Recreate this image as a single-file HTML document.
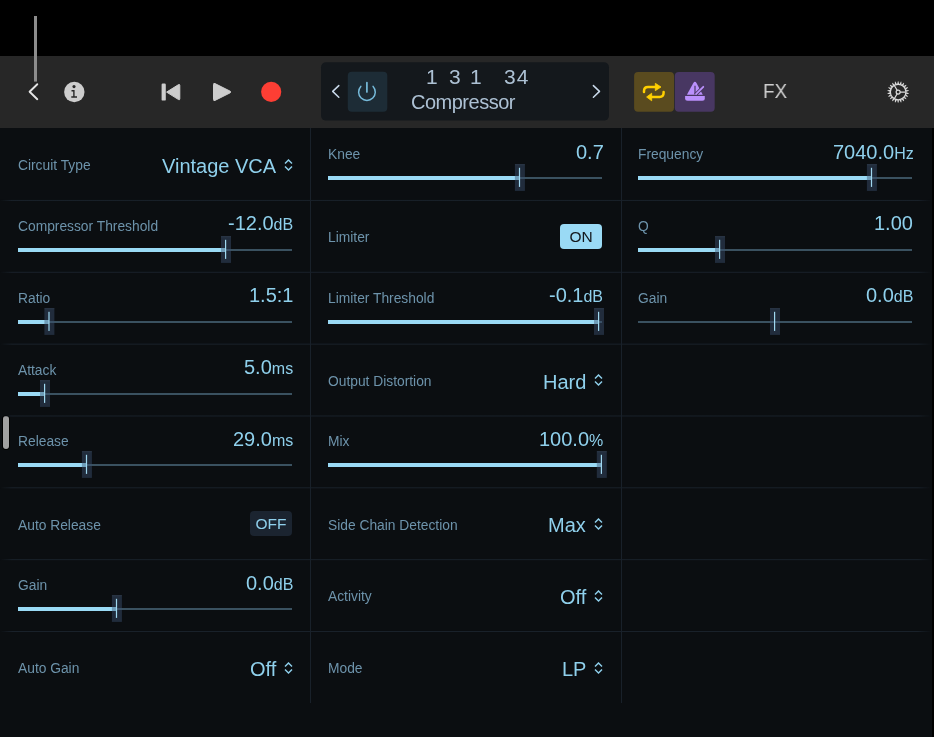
<!DOCTYPE html>
<html><head><meta charset="utf-8">
<style>
*{margin:0;padding:0;box-sizing:border-box}
html,body{width:934px;height:737px;overflow:hidden;background:#000}
body{position:relative;font-family:"Liberation Sans",sans-serif;-webkit-font-smoothing:antialiased}
.lab,.val,.tog,.txt{will-change:transform}
.a{position:absolute}
#tb{left:0;top:56px;width:934px;height:72px;background:#272727}
#panel{left:0;top:128px;width:932px;height:609px;background:#0b0e11}
.vl{position:absolute;top:128px;width:1px;height:575px;background:#19212a}
.lab{position:absolute;font-size:13.8px;line-height:13.8px;color:#6d93ab;white-space:nowrap}
.val{position:absolute;font-size:20px;line-height:20px;color:#8fd0ec;white-space:nowrap;text-align:right}
.val small{font-size:16px}
.tog{position:absolute;width:42px;height:25px;border-radius:4px;font-size:15.5px;line-height:25px;text-align:center}
</style></head><body>
<div class="a" id="tb"></div>
<div class="a" id="panel"></div>
<div class="a" style="left:932px;top:128px;width:2px;height:609px;background:#000"></div>
<div class="vl" style="left:310px"></div>
<div class="vl" style="left:621px"></div>
<div class="a" style="left:3px;top:416px;width:6px;height:33px;border-radius:3px;background:#a0a0a0;box-shadow:0 0 0 1px #000"></div>
<svg class="a" style="left:0;top:0" width="934" height="128" viewBox="0 0 934 128">
<rect x="34" y="16" width="3" height="65.6" fill="#8c8c8c"/>
<path d="M37.3 84.2 L29.6 91.7 L37.3 99.2" fill="none" stroke="#e6e6e6" stroke-width="1.9" stroke-linecap="round" stroke-linejoin="round"/>
<circle cx="74.3" cy="92" r="10.2" fill="#cdcdcd"/>
<circle cx="74" cy="86.6" r="1.55" fill="#272727"/>
<path d="M71.5 90.8 H74.6 M73.9 90.2 V97.1 M71.3 97.05 H77" fill="none" stroke="#272727" stroke-width="1.4"/>
<rect x="161.6" y="83.6" width="4.2" height="17" rx="1.2" fill="#cdcdcd"/>
<path d="M166.6 92.1 L178.6 84.6 Q179.8 84 179.8 85.4 V98.8 Q179.8 100.2 178.6 99.6 Z" fill="#cdcdcd" stroke="#cdcdcd" stroke-width="1" stroke-linejoin="round"/>
<path d="M213.5 84.5 Q213.5 82.8 215 83.6 L230.2 91.2 Q231.3 92 230.2 92.8 L215 100.4 Q213.5 101.2 213.5 99.5 Z" fill="#cdcdcd" stroke="#cdcdcd" stroke-width="1" stroke-linejoin="round"/>
<circle cx="271.2" cy="91.8" r="10.1" fill="#fd3e34"/>
<rect x="321" y="62.3" width="288" height="58.3" rx="5" fill="#14181c"/>
<path d="M338.8 85.6 L332.7 91.4 L338.8 97.2" fill="none" stroke="#c9d9ea" stroke-width="1.5" stroke-linecap="round" stroke-linejoin="round"/>
<rect x="347.8" y="71.8" width="39.5" height="40" rx="4" fill="#1d2c36"/>
<path d="M360.8 86.4 A8.35 8.35 0 1 0 373.1 86.4" fill="none" stroke="#76badA" stroke-width="1.5" stroke-linecap="round"/>
<path d="M366.9 82.7 V92" fill="none" stroke="#76badA" stroke-width="1.7" stroke-linecap="round"/>
<path d="M593.4 85.6 L599.5 91.4 L593.4 97.2" fill="none" stroke="#c9d9ea" stroke-width="1.5" stroke-linecap="round" stroke-linejoin="round"/>
<rect x="634.1" y="72" width="39.9" height="39.8" rx="4" fill="#5a4b1f"/>
<rect x="674.8" y="72" width="39.9" height="39.8" rx="4" fill="#483762"/>
<path d="M644 92 V91 Q644 87 648 87 H656" fill="none" stroke="#ffd000" stroke-width="2.5" stroke-linecap="round"/>
<path d="M655.3 83.3 L661 87 L655.3 90.7 Z" fill="#ffd000" stroke="#ffd000" stroke-width="0.8" stroke-linejoin="round"/>
<path d="M663.6 92 V92.8 Q663.6 96.9 659.6 96.9 H651" fill="none" stroke="#ffd000" stroke-width="2.5" stroke-linecap="round"/>
<path d="M651.7 93.2 L646.6 97 L651.7 100.8 Z" fill="#ffd000" stroke="#ffd000" stroke-width="0.8" stroke-linejoin="round"/>
<path d="M686.9 94.7 L693.2 83.2 Q694.9 80.4 696.6 83.2 L702.8 94.7 Z" fill="#ba90fc"/>
<path d="M695 85.8 V93.5" fill="none" stroke="#483762" stroke-width="1.2"/>
<path d="M695.2 95 L704.2 86" fill="none" stroke="#483762" stroke-width="3.4"/>
<path d="M685.1 95.9 H704.8 V98.3 Q704.8 100.8 702.3 100.8 H687.6 Q685.1 100.8 685.1 98.3 Z" fill="#ba90fc"/>
<path d="M696 94.1 L703.3 86.8" fill="none" stroke="#ba90fc" stroke-width="1.8" stroke-linecap="round"/>
<circle cx="898.15" cy="92.05" r="7.8" fill="none" stroke="#dcdcdc" stroke-width="1.25"/>
<path d="M906.35 92.25 L908.87 93.34 L908.80 93.83 L906.07 94.17ZM905.96 94.55 L908.07 96.31 L907.87 96.76 L905.15 96.32ZM904.94 96.65 L906.47 98.94 L906.15 99.31 L903.67 98.12ZM903.37 98.37 L904.19 101.00 L903.78 101.27 L901.74 99.42ZM901.38 99.59 L901.43 102.34 L900.96 102.48 L899.51 100.14ZM899.12 100.19 L898.40 102.85 L897.90 102.85 L897.18 100.19ZM896.79 100.14 L895.34 102.48 L894.87 102.34 L894.92 99.59ZM894.56 99.42 L892.52 101.27 L892.11 101.00 L892.93 98.37ZM892.63 98.12 L890.15 99.31 L889.83 98.94 L891.36 96.65ZM891.15 96.32 L888.43 96.76 L888.23 96.31 L890.34 94.55ZM890.23 94.17 L887.50 93.83 L887.43 93.34 L889.95 92.25ZM889.95 91.85 L887.43 90.76 L887.50 90.27 L890.23 89.93ZM890.34 89.55 L888.23 87.79 L888.43 87.34 L891.15 87.78ZM891.36 87.45 L889.83 85.16 L890.15 84.79 L892.63 85.98ZM892.93 85.73 L892.11 83.10 L892.52 82.83 L894.56 84.68ZM894.92 84.51 L894.87 81.76 L895.34 81.62 L896.79 83.96ZM897.18 83.91 L897.90 81.25 L898.40 81.25 L899.12 83.91ZM899.51 83.96 L900.96 81.62 L901.43 81.76 L901.38 84.51ZM901.74 84.68 L903.78 82.83 L904.19 83.10 L903.37 85.73ZM903.67 85.98 L906.15 84.79 L906.47 85.16 L904.94 87.45ZM905.15 87.78 L907.87 87.34 L908.07 87.79 L905.96 89.55ZM906.07 89.93 L908.80 90.27 L908.87 90.76 L906.35 91.85Z" fill="#dcdcdc"/>
<circle cx="898.15" cy="92.05" r="2" fill="none" stroke="#dcdcdc" stroke-width="1.2"/>
<path d="M900.05 92.05 H905.5 M897.2 90.4 L894.2 85.2 M897.2 93.7 L894.2 98.9" fill="none" stroke="#dcdcdc" stroke-width="1.15"/>
</svg>
<div class="a txt" style="left:410.8px;top:91.9px;font-size:20px;line-height:20px;letter-spacing:-0.5px;color:#adc1d4;white-space:nowrap">Compressor</div>
<div class="a txt" style="left:426.2px;top:66.3px;font-size:21px;line-height:21px;color:#adc1d4;white-space:nowrap">1</div>
<div class="a txt" style="left:448.7px;top:66.3px;font-size:21px;line-height:21px;color:#adc1d4;white-space:nowrap">3</div>
<div class="a txt" style="left:470.2px;top:66.3px;font-size:21px;line-height:21px;color:#adc1d4;white-space:nowrap">1</div>
<div class="a txt" style="left:504px;top:66.3px;font-size:21px;line-height:21px;letter-spacing:1px;color:#adc1d4;white-space:nowrap">34</div>
<div class="a txt" style="left:763.3px;top:81.45px;font-size:20.5px;line-height:20.5px;color:#cdcdcd;white-space:nowrap;transform:scaleX(0.923);transform-origin:0 0">FX</div>

<svg class="a" style="left:0;top:0" width="934" height="737"><defs><linearGradient id="hg" gradientUnits="userSpaceOnUse" x1="0" y1="0" x2="932" y2="0"><stop offset="0" stop-color="#19212a" stop-opacity="0"/><stop offset="0.0129" stop-color="#19212a"/><stop offset="0.985" stop-color="#19212a"/><stop offset="1" stop-color="#19212a" stop-opacity="0"/></linearGradient></defs><rect x="0" y="199.95" width="932" height="1" fill="url(#hg)"/><rect x="0" y="271.79" width="932" height="1" fill="url(#hg)"/><rect x="0" y="343.63" width="932" height="1" fill="url(#hg)"/><rect x="0" y="415.47" width="932" height="1" fill="url(#hg)"/><rect x="0" y="487.31" width="932" height="1" fill="url(#hg)"/><rect x="0" y="559.15" width="932" height="1" fill="url(#hg)"/><rect x="0" y="630.99" width="932" height="1" fill="url(#hg)"/><rect x="18" y="249" width="274" height="2" fill="#3a5160"/><rect x="18" y="248" width="207.60" height="4" fill="#9adaf5"/><rect x="221.00" y="236.20" width="10" height="26.7" fill="rgba(60,83,113,0.45)"/><rect x="221.00" y="236.20" width="10" height="1" fill="rgba(120,140,160,0.18)"/><rect x="225.00" y="239.80" width="1.2" height="19.1" fill="#a0d8f0"/><rect x="18" y="321" width="274" height="2" fill="#3a5160"/><rect x="18" y="320" width="31.00" height="4" fill="#9adaf5"/><rect x="44.40" y="308.20" width="10" height="26.7" fill="rgba(60,83,113,0.45)"/><rect x="44.40" y="308.20" width="10" height="1" fill="rgba(120,140,160,0.18)"/><rect x="48.40" y="311.80" width="1.2" height="19.1" fill="#a0d8f0"/><rect x="18" y="393" width="274" height="2" fill="#3a5160"/><rect x="18" y="392" width="26.60" height="4" fill="#9adaf5"/><rect x="40.00" y="380.20" width="10" height="26.7" fill="rgba(60,83,113,0.45)"/><rect x="40.00" y="380.20" width="10" height="1" fill="rgba(120,140,160,0.18)"/><rect x="44.00" y="383.80" width="1.2" height="19.1" fill="#a0d8f0"/><rect x="18" y="464" width="274" height="2" fill="#3a5160"/><rect x="18" y="463" width="68.50" height="4" fill="#9adaf5"/><rect x="81.90" y="451.20" width="10" height="26.7" fill="rgba(60,83,113,0.45)"/><rect x="81.90" y="451.20" width="10" height="1" fill="rgba(120,140,160,0.18)"/><rect x="85.90" y="454.80" width="1.2" height="19.1" fill="#a0d8f0"/><rect x="18" y="608" width="274" height="2" fill="#3a5160"/><rect x="18" y="607" width="98.50" height="4" fill="#9adaf5"/><rect x="111.90" y="595.20" width="10" height="26.7" fill="rgba(60,83,113,0.45)"/><rect x="111.90" y="595.20" width="10" height="1" fill="rgba(120,140,160,0.18)"/><rect x="115.90" y="598.80" width="1.2" height="19.1" fill="#a0d8f0"/><rect x="328" y="177" width="274" height="2" fill="#3a5160"/><rect x="328" y="176" width="191.50" height="4" fill="#9adaf5"/><rect x="514.90" y="164.20" width="10" height="26.7" fill="rgba(60,83,113,0.45)"/><rect x="514.90" y="164.20" width="10" height="1" fill="rgba(120,140,160,0.18)"/><rect x="518.90" y="167.80" width="1.2" height="19.1" fill="#a0d8f0"/><rect x="328" y="321" width="274" height="2" fill="#3a5160"/><rect x="328" y="320" width="270.60" height="4" fill="#9adaf5"/><rect x="594.00" y="308.20" width="10" height="26.7" fill="rgba(60,83,113,0.45)"/><rect x="594.00" y="308.20" width="10" height="1" fill="rgba(120,140,160,0.18)"/><rect x="598.00" y="311.80" width="1.2" height="19.1" fill="#a0d8f0"/><rect x="328" y="464" width="274" height="2" fill="#3a5160"/><rect x="328" y="463" width="273.40" height="4" fill="#9adaf5"/><rect x="596.80" y="451.20" width="10" height="26.7" fill="rgba(60,83,113,0.45)"/><rect x="596.80" y="451.20" width="10" height="1" fill="rgba(120,140,160,0.18)"/><rect x="600.80" y="454.80" width="1.2" height="19.1" fill="#a0d8f0"/><rect x="638" y="177" width="274" height="2" fill="#3a5160"/><rect x="638" y="176" width="233.50" height="4" fill="#9adaf5"/><rect x="866.90" y="164.20" width="10" height="26.7" fill="rgba(60,83,113,0.45)"/><rect x="866.90" y="164.20" width="10" height="1" fill="rgba(120,140,160,0.18)"/><rect x="870.90" y="167.80" width="1.2" height="19.1" fill="#a0d8f0"/><rect x="638" y="249" width="274" height="2" fill="#3a5160"/><rect x="638" y="248" width="81.60" height="4" fill="#9adaf5"/><rect x="715.00" y="236.20" width="10" height="26.7" fill="rgba(60,83,113,0.45)"/><rect x="715.00" y="236.20" width="10" height="1" fill="rgba(120,140,160,0.18)"/><rect x="719.00" y="239.80" width="1.2" height="19.1" fill="#a0d8f0"/><rect x="638" y="321" width="274" height="2" fill="#3a5160"/><rect x="770.00" y="308.20" width="10" height="26.7" fill="rgba(60,83,113,0.45)"/><rect x="770.00" y="308.20" width="10" height="1" fill="rgba(120,140,160,0.18)"/><rect x="774.00" y="311.80" width="1.2" height="19.1" fill="#a0d8f0"/></svg>
<div class="lab" style="left:18px;top:159.33px">Circuit Type</div>
<div class="val" style="right:657.80px;top:156.18px">Vintage VCA</div>
<svg class="a" style="left:284px;top:158.8px" width="9" height="12" viewBox="0 0 9 12"><path d="M1 4.6 L4.5 1 L8 4.6 M1 7.4 L4.5 11 L8 7.4" fill="none" stroke="#8fd0ec" stroke-width="1.4"/></svg>
<div class="lab" style="left:18px;top:219.97px">Compressor Threshold</div>
<div class="val" style="right:640.60px;top:213.42px">-12.0<small>dB</small></div>
<div class="lab" style="left:18px;top:291.81px">Ratio</div>
<div class="val" style="right:640.60px;top:285.26px">1.5:1</div>
<div class="lab" style="left:18px;top:363.65px">Attack</div>
<div class="val" style="right:640.60px;top:357.10px">5.0<small>ms</small></div>
<div class="lab" style="left:18px;top:435.49px">Release</div>
<div class="val" style="right:640.60px;top:428.94px">29.0<small>ms</small></div>
<div class="lab" style="left:18px;top:518.53px">Auto Release</div>
<div class="tog" style="left:250px;top:511.31000000000006px;background:#1b2430;color:#8fd0ec">OFF</div>
<div class="lab" style="left:18px;top:579.17px">Gain</div>
<div class="val" style="right:640.60px;top:572.62px">0.0<small>dB</small></div>
<div class="lab" style="left:18px;top:662.21px">Auto Gain</div>
<div class="val" style="right:657.80px;top:659.06px">Off</div>
<svg class="a" style="left:284px;top:661.7px" width="9" height="12" viewBox="0 0 9 12"><path d="M1 4.6 L4.5 1 L8 4.6 M1 7.4 L4.5 11 L8 7.4" fill="none" stroke="#8fd0ec" stroke-width="1.4"/></svg>
<div class="lab" style="left:328px;top:148.13px">Knee</div>
<div class="val" style="right:330.60px;top:141.58px">0.7</div>
<div class="lab" style="left:328px;top:231.17px">Limiter</div>
<div class="tog" style="left:560px;top:223.95000000000002px;background:#9adaf5;color:#14181c">ON</div>
<div class="lab" style="left:328px;top:291.81px">Limiter Threshold</div>
<div class="val" style="right:330.60px;top:285.26px">-0.1<small>dB</small></div>
<div class="lab" style="left:328px;top:374.85px">Output Distortion</div>
<div class="val" style="right:347.80px;top:371.70px">Hard</div>
<svg class="a" style="left:594px;top:374.3px" width="9" height="12" viewBox="0 0 9 12"><path d="M1 4.6 L4.5 1 L8 4.6 M1 7.4 L4.5 11 L8 7.4" fill="none" stroke="#8fd0ec" stroke-width="1.4"/></svg>
<div class="lab" style="left:328px;top:435.49px">Mix</div>
<div class="val" style="right:330.60px;top:428.94px">100.0<small>%</small></div>
<div class="lab" style="left:328px;top:518.53px">Side Chain Detection</div>
<div class="val" style="right:347.80px;top:515.38px">Max</div>
<svg class="a" style="left:594px;top:518.0px" width="9" height="12" viewBox="0 0 9 12"><path d="M1 4.6 L4.5 1 L8 4.6 M1 7.4 L4.5 11 L8 7.4" fill="none" stroke="#8fd0ec" stroke-width="1.4"/></svg>
<div class="lab" style="left:328px;top:590.37px">Activity</div>
<div class="val" style="right:347.80px;top:587.22px">Off</div>
<svg class="a" style="left:594px;top:589.9px" width="9" height="12" viewBox="0 0 9 12"><path d="M1 4.6 L4.5 1 L8 4.6 M1 7.4 L4.5 11 L8 7.4" fill="none" stroke="#8fd0ec" stroke-width="1.4"/></svg>
<div class="lab" style="left:328px;top:662.21px">Mode</div>
<div class="val" style="right:347.80px;top:659.06px">LP</div>
<svg class="a" style="left:594px;top:661.7px" width="9" height="12" viewBox="0 0 9 12"><path d="M1 4.6 L4.5 1 L8 4.6 M1 7.4 L4.5 11 L8 7.4" fill="none" stroke="#8fd0ec" stroke-width="1.4"/></svg>
<div class="lab" style="left:638px;top:148.13px">Frequency</div>
<div class="val" style="right:20.60px;top:141.58px">7040.0<small>Hz</small></div>
<div class="lab" style="left:638px;top:219.97px">Q</div>
<div class="val" style="right:20.60px;top:213.42px">1.00</div>
<div class="lab" style="left:638px;top:291.81px">Gain</div>
<div class="val" style="right:20.60px;top:285.26px">0.0<small>dB</small></div>
</body></html>
